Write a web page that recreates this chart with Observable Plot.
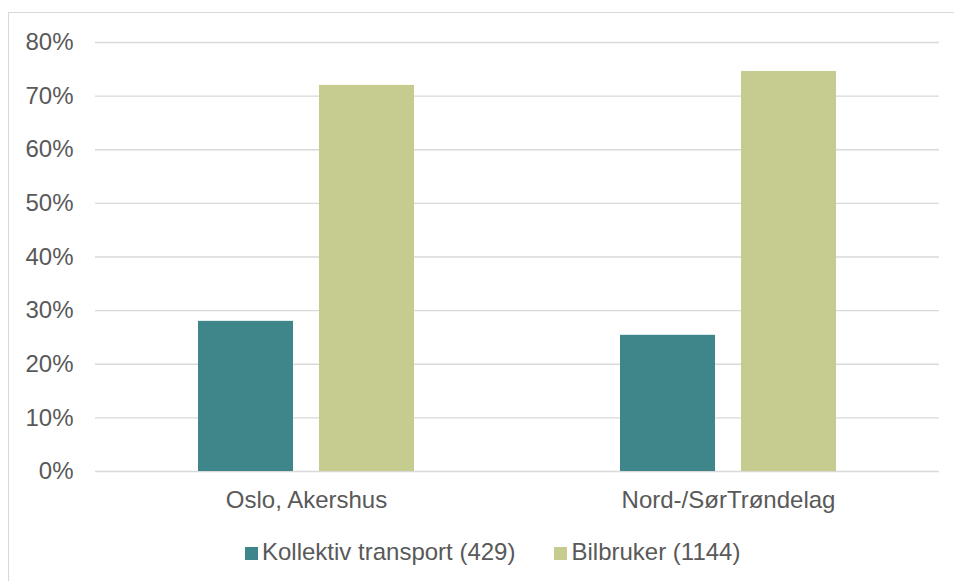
<!DOCTYPE html>
<html>
<head>
<meta charset="utf-8">
<script src="https://cdn.jsdelivr.net/npm/d3@7"></script>
<script src="https://cdn.jsdelivr.net/npm/@observablehq/plot@0.6"></script>
<style>
  html, body { margin: 0; padding: 0; overflow: hidden; background: #fff; }
  body { width: 954px; height: 581px; position: relative; font-family: "Liberation Sans", Arial, sans-serif; }
  #frame { position: absolute; left: 8px; top: 12px; width: 1000px; height: 1000px; border: 1px solid #d9d9d9; box-sizing: border-box; }
  #chart { position: absolute; left: 0; top: 0; }
  #legend { position: absolute; left: 245px; top: 538px; display: flex; align-items: center; font-size: 24px; color: #595959; white-space: nowrap; }
  .item { display: flex; align-items: center; }
  .item + .item { margin-left: 39px; }
  .swatch { width: 13px; height: 13px; margin-right: 4px; margin-top: 3px; }
</style>
</head>
<body>
<div id="frame"></div>
<div id="chart"></div>
<div id="legend"></div>
<script>
// Share of respondents by main travel mode, per region
const regions = ["Oslo, Akershus", "Nord-/SørTrøndelag"];
const series = ["Kollektiv transport (429)", "Bilbruker (1144)"];
const kollektiv = [28, 25.4];
const bilbruker = [72, 74.6];
const yTicks = [0, 10, 20, 30, 40, 50, 60, 70, 80];
const colors = ["#3f868a", "#c6cc90"];

const data = regions.flatMap((region, i) => [
  {region, series: series[0], value: kollektiv[i]},
  {region, series: series[1], value: bilbruker[i]}
]);

const chart = Plot.plot({
  width: 954,
  height: 520,
  marginLeft: 95,
  marginRight: 15,
  marginTop: 42,
  marginBottom: 49,
  style: {
    fontFamily: "'Liberation Sans', Arial, sans-serif",
    fontSize: "24px",
    color: "#595959",
    background: "transparent",
    overflow: "visible"
  },
  fx: {domain: regions, padding: 0, label: null, axis: "bottom", tickSize: 0, tickPadding: 19},
  x: {domain: series, axis: null, paddingInner: 0.215, paddingOuter: 0.851},
  y: {domain: [0, 80], ticks: yTicks, tickFormat: d => d + "%", label: null, tickSize: 0, tickPadding: 22},
  color: {domain: series, range: colors},
  marks: [
    Plot.gridY(yTicks, {stroke: "#d9d9d9", strokeOpacity: 1, strokeWidth: 1.3}),
    Plot.barY(data, {fx: "region", x: "series", y: "value", fill: "series"})
  ]
});
document.getElementById("chart").appendChild(chart);

// Legend below the chart
const legend = d3.select("#legend");
series.forEach((s, i) => {
  const item = legend.append("div").attr("class", "item");
  item.append("div").attr("class", "swatch").style("background", colors[i]);
  item.append("span").text(s);
});
</script>
</body>
</html>
